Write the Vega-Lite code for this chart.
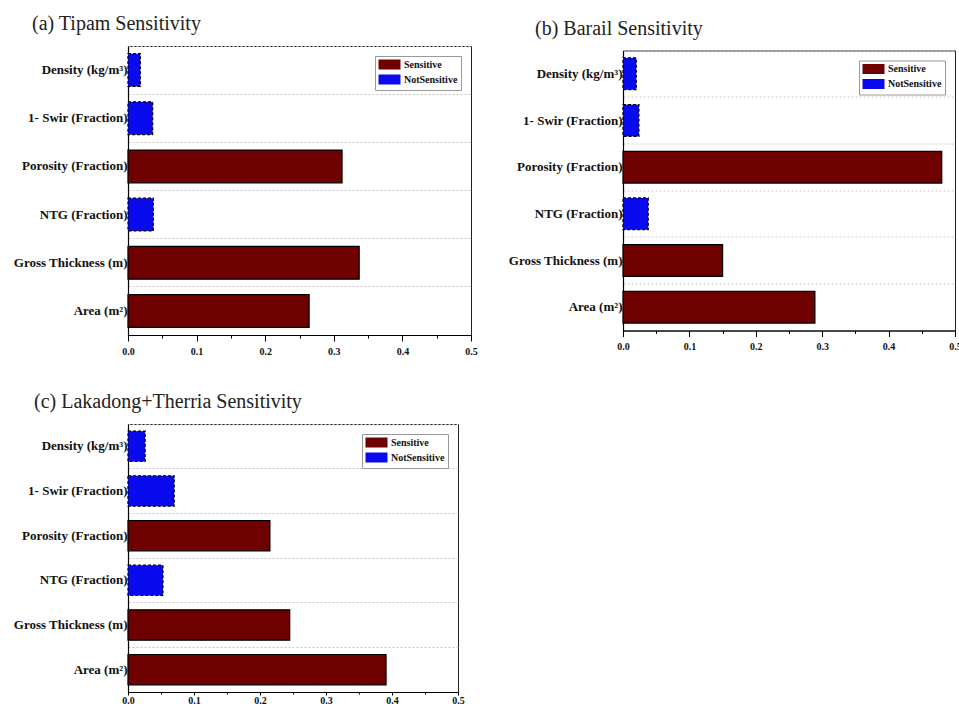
{
  "$schema": "https://vega.github.io/schema/vega-lite/v6.json",
  "background": "white",
  "padding": {"left": 12, "top": 13, "right": 5, "bottom": 5},
  "datasets": {
    "tipam": [
      {"Parameter": "Density (kg/m³)", "Sensitivity": 0.018, "Type": "NotSensitive"},
      {"Parameter": "1- Swir (Fraction)", "Sensitivity": 0.036, "Type": "NotSensitive"},
      {"Parameter": "Porosity (Fraction)", "Sensitivity": 0.312, "Type": "Sensitive"},
      {"Parameter": "NTG (Fraction)", "Sensitivity": 0.037, "Type": "NotSensitive"},
      {"Parameter": "Gross Thickness (m)", "Sensitivity": 0.337, "Type": "Sensitive"},
      {"Parameter": "Area (m²)", "Sensitivity": 0.264, "Type": "Sensitive"}
    ],
    "barail": [
      {"Parameter": "Density (kg/m³)", "Sensitivity": 0.02, "Type": "NotSensitive"},
      {"Parameter": "1- Swir (Fraction)", "Sensitivity": 0.024, "Type": "NotSensitive"},
      {"Parameter": "Porosity (Fraction)", "Sensitivity": 0.48, "Type": "Sensitive"},
      {"Parameter": "NTG (Fraction)", "Sensitivity": 0.038, "Type": "NotSensitive"},
      {"Parameter": "Gross Thickness (m)", "Sensitivity": 0.15, "Type": "Sensitive"},
      {"Parameter": "Area (m²)", "Sensitivity": 0.289, "Type": "Sensitive"}
    ],
    "lakadong": [
      {"Parameter": "Density (kg/m³)", "Sensitivity": 0.026, "Type": "NotSensitive"},
      {"Parameter": "1- Swir (Fraction)", "Sensitivity": 0.07, "Type": "NotSensitive"},
      {"Parameter": "Porosity (Fraction)", "Sensitivity": 0.215, "Type": "Sensitive"},
      {"Parameter": "NTG (Fraction)", "Sensitivity": 0.053, "Type": "NotSensitive"},
      {"Parameter": "Gross Thickness (m)", "Sensitivity": 0.245, "Type": "Sensitive"},
      {"Parameter": "Area (m²)", "Sensitivity": 0.391, "Type": "Sensitive"}
    ]
  },
  "bounds": "flush",
  "columns": 2,
  "spacing": {"row": 89, "column": 152},
  "center": {"row": true, "column": false},
  "resolve": {
    "scale": {"fill": "independent", "strokeDash": "independent"},
    "legend": {"fill": "independent", "strokeDash": "independent"}
  },
  "concat": [
    {
      "width": 343,
      "height": 289,
      "data": {"name": "tipam"},
      "title": {"text": "(a)  Tipam Sensitivity", "dx": -96},
      "mark": {"type": "bar", "stroke": "black", "strokeWidth": 1.2, "height": {"band": 0.68}},
      "encoding": {
        "y": {"field": "Parameter", "type": "nominal", "sort": ["Density (kg/m³)", "1- Swir (Fraction)", "Porosity (Fraction)", "NTG (Fraction)", "Gross Thickness (m)", "Area (m²)"], "scale": {"paddingInner": 0, "paddingOuter": 0}, "title": null},
        "x": {"field": "Sensitivity", "type": "quantitative", "scale": {"domain": [0, 0.5], "nice": false}, "title": null},
        "fill": {"field": "Type", "type": "nominal", "scale": {"domain": ["Sensitive", "NotSensitive"], "range": ["#6e0000", "#0a0aee"]}, "legend": {"title": null}},
        "strokeDash": {"field": "Type", "type": "nominal", "scale": {"domain": ["Sensitive", "NotSensitive"], "range": [[1, 0], [3, 2]]}, "legend": {"title": null}}
      }
    },
    {
      "width": 332,
      "height": 280,
      "data": {"name": "barail"},
      "title": {"text": "(b)  Barail Sensitivity", "dx": -88},
      "mark": {"type": "bar", "stroke": "black", "strokeWidth": 1.2, "height": {"band": 0.68}},
      "encoding": {
        "y": {"field": "Parameter", "type": "nominal", "sort": ["Density (kg/m³)", "1- Swir (Fraction)", "Porosity (Fraction)", "NTG (Fraction)", "Gross Thickness (m)", "Area (m²)"], "scale": {"paddingInner": 0, "paddingOuter": 0}, "title": null},
        "x": {"field": "Sensitivity", "type": "quantitative", "scale": {"domain": [0, 0.5], "nice": false}, "title": null},
        "fill": {"field": "Type", "type": "nominal", "scale": {"domain": ["Sensitive", "NotSensitive"], "range": ["#6e0000", "#0a0aee"]}, "legend": {"title": null}},
        "strokeDash": {"field": "Type", "type": "nominal", "scale": {"domain": ["Sensitive", "NotSensitive"], "range": [[1, 0], [3, 2]]}, "legend": {"title": null}}
      }
    },
    {
      "width": 330,
      "height": 268,
      "data": {"name": "lakadong"},
      "title": {"text": "(c)  Lakadong+Therria Sensitivity", "dx": -94},
      "mark": {"type": "bar", "stroke": "black", "strokeWidth": 1.2, "height": {"band": 0.68}},
      "encoding": {
        "y": {"field": "Parameter", "type": "nominal", "sort": ["Density (kg/m³)", "1- Swir (Fraction)", "Porosity (Fraction)", "NTG (Fraction)", "Gross Thickness (m)", "Area (m²)"], "scale": {"paddingInner": 0, "paddingOuter": 0}, "title": null},
        "x": {"field": "Sensitivity", "type": "quantitative", "scale": {"domain": [0, 0.5], "nice": false}, "title": null, "axis": {"labelPadding": 0, "tickSize": {"condition": {"test": "round(datum.value * 50) % 5 === 0", "value": 3}, "value": 2}}},
        "fill": {"field": "Type", "type": "nominal", "scale": {"domain": ["Sensitive", "NotSensitive"], "range": ["#6e0000", "#0a0aee"]}, "legend": {"title": null}},
        "strokeDash": {"field": "Type", "type": "nominal", "scale": {"domain": ["Sensitive", "NotSensitive"], "range": [[1, 0], [3, 2]]}, "legend": {"title": null}}
      }
    }
  ],
  "config": {
    "font": "Liberation Serif",
    "view": {"stroke": "#222", "strokeWidth": 1},
    "title": {"anchor": "start", "frame": "group", "font": "Liberation Serif", "fontSize": 20, "fontWeight": "normal", "color": "#222", "offset": 12},
    "axisY": {
      "labelFont": "Liberation Serif", "labelFontWeight": "bold", "labelFontSize": 13, "labelColor": "#111",
      "ticks": false, "labelPadding": 1, "domainColor": "#000", "domainWidth": 1.2,
      "grid": true, "gridDash": [2, 2], "gridColor": "#c8c8c8", "bandPosition": 0, "labelLimit": 250
    },
    "axisX": {
      "values": [0, 0.02, 0.04, 0.06, 0.08, 0.1, 0.12, 0.14, 0.16, 0.18, 0.2, 0.22, 0.24, 0.26, 0.28, 0.3, 0.32, 0.34, 0.36, 0.38, 0.4, 0.42, 0.44, 0.46, 0.48, 0.5],
      "labelExpr": "round(datum.value * 50) % 5 === 0 ? format(datum.value, '.1f') : ''",
      "tickSize": {"condition": {"test": "round(datum.value * 50) % 5 === 0", "value": 6}, "value": 3},
      "labelFont": "Liberation Serif", "labelFontWeight": "bold", "labelFontSize": 10, "labelColor": "#111",
      "labelOverlap": false, "labelFlush": false, "labelPadding": 5,
      "grid": false, "domainColor": "#000", "domainWidth": 1.2, "tickColor": "#000", "tickWidth": 1
    },
    "legend": {
      "orient": "top-right", "offset": 10, "strokeColor": "#999", "padding": 3, "rowPadding": 0,
      "symbolType": "M-1,-1H3.4V1H-1Z", "symbolSize": 100, "symbolStrokeColor": "#000", "symbolStrokeWidth": 1,
      "labelFont": "Liberation Serif", "labelFontWeight": "bold", "labelFontSize": 10, "labelColor": "#111",
      "fillColor": "white", "labelOffset": 15
    }
  }
}
